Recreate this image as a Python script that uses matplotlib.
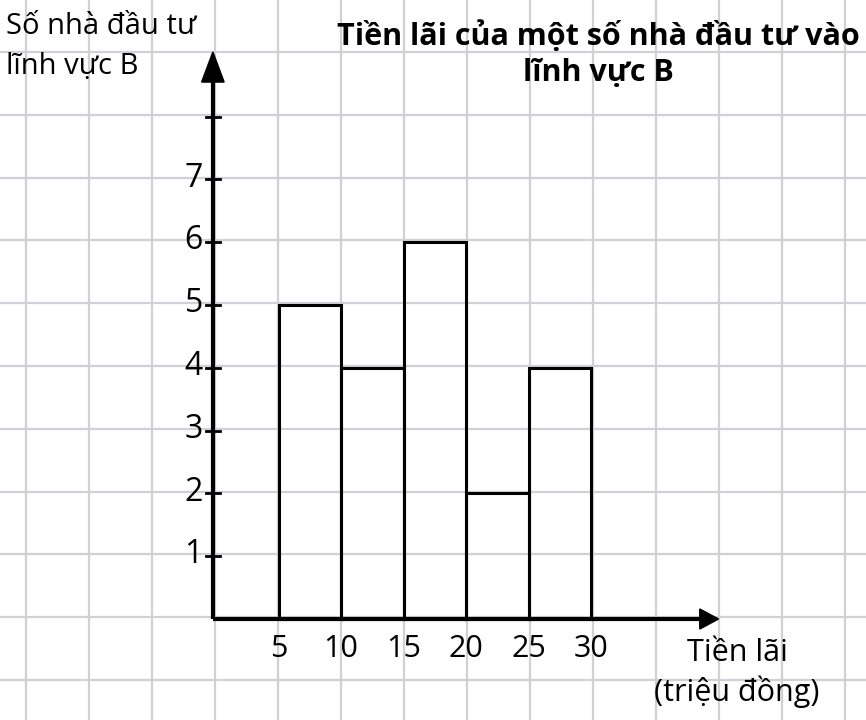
import numpy as np
import matplotlib.pyplot as plt
from matplotlib.patches import Rectangle, Polygon

plt.rcParams['font.family'] = ['Open Sans', 'DejaVu Sans']

# data
bin_edges = [5, 10, 15, 20, 25, 30]
counts = [5, 4, 6, 2, 4]
x_ticks = [5, 10, 15, 20, 25, 30]
y_ticks = [1, 2, 3, 4, 5, 6, 7]
title = "Tiền lãi của một số nhà đầu tư vào\nlĩnh vực B"
ylabel = "Số nhà đầu tư\nlĩnh vực B"
xlabel = "Tiền lãi\n(triệu đồng)"

W, H = 866, 720
fig = plt.figure(figsize=(W / 100, H / 100), dpi=100)
ax = fig.add_axes([0, 0, 1, 1])

# pixel -> data mapping: x px = 216 + 12.5*v, y px = 619 - 62.8*v
sx, ox = 12.5, 216
sy, oy = 62.8, 619
ax.set_xlim(-ox / sx, (W - ox) / sx)
ax.set_ylim((oy - H) / sy, oy / sy)
ax.axis('off')

# background grid (px based)
for gx in np.arange(26, W, 63.0):
    ax.axvline((gx - ox) / sx, color='#d0d0d6', lw=1.6, zorder=0)
for gy in np.arange(52, H, 62.8):
    ax.axhline((oy - gy) / sy, color='#d0d0d6', lw=1.6, zorder=0)

# bars
for i, c in enumerate(counts):
    ax.add_patch(Rectangle((bin_edges[i], 0), bin_edges[i + 1] - bin_edges[i], c,
                           fill=False, ec='black', lw=2.2, zorder=3))

# axes with arrows
yax_x = -0.25
ax.plot([yax_x, yax_x], [0, 8.8], color='black', lw=3, zorder=4, solid_capstyle='butt')
ax.add_patch(Polygon([[yax_x - 0.9, 8.55], [yax_x + 0.9, 8.55], [yax_x, 9.03]],
                     closed=True, color='black', zorder=5))
ax.plot([yax_x, 39.5], [0, 0], color='black', lw=3, zorder=4, solid_capstyle='butt')
ax.add_patch(Polygon([[38.7, 0.16], [38.7, -0.16], [40.2, 0]],
                     closed=True, color='black', zorder=5))

# y ticks
for t in y_ticks + [8]:
    ax.plot([yax_x - 0.55, yax_x + 0.6], [t, t], color='black', lw=2, zorder=4)
for t in y_ticks:
    ax.text(yax_x - 0.8, t + 0.02, str(t), ha='right', va='center', fontsize=23)

# x tick labels
for t in x_ticks:
    ax.text(t, -0.47, str(t), ha='center', va='center', fontsize=22)

ax.text((6 - ox) / sx, (oy - 12) / sy, ylabel, ha='left', va='top', fontsize=21,
        linespacing=1.5)
ax.text((598 - ox) / sx, (oy - 20) / sy, title, ha='center', va='top', fontsize=22,
        fontweight='bold', linespacing=1.25)
ax.text((737 - ox) / sx, (oy - 638) / sy, xlabel, ha='center', va='top', fontsize=22,
        linespacing=1.3)

fig.savefig('out.png', dpi=100)
